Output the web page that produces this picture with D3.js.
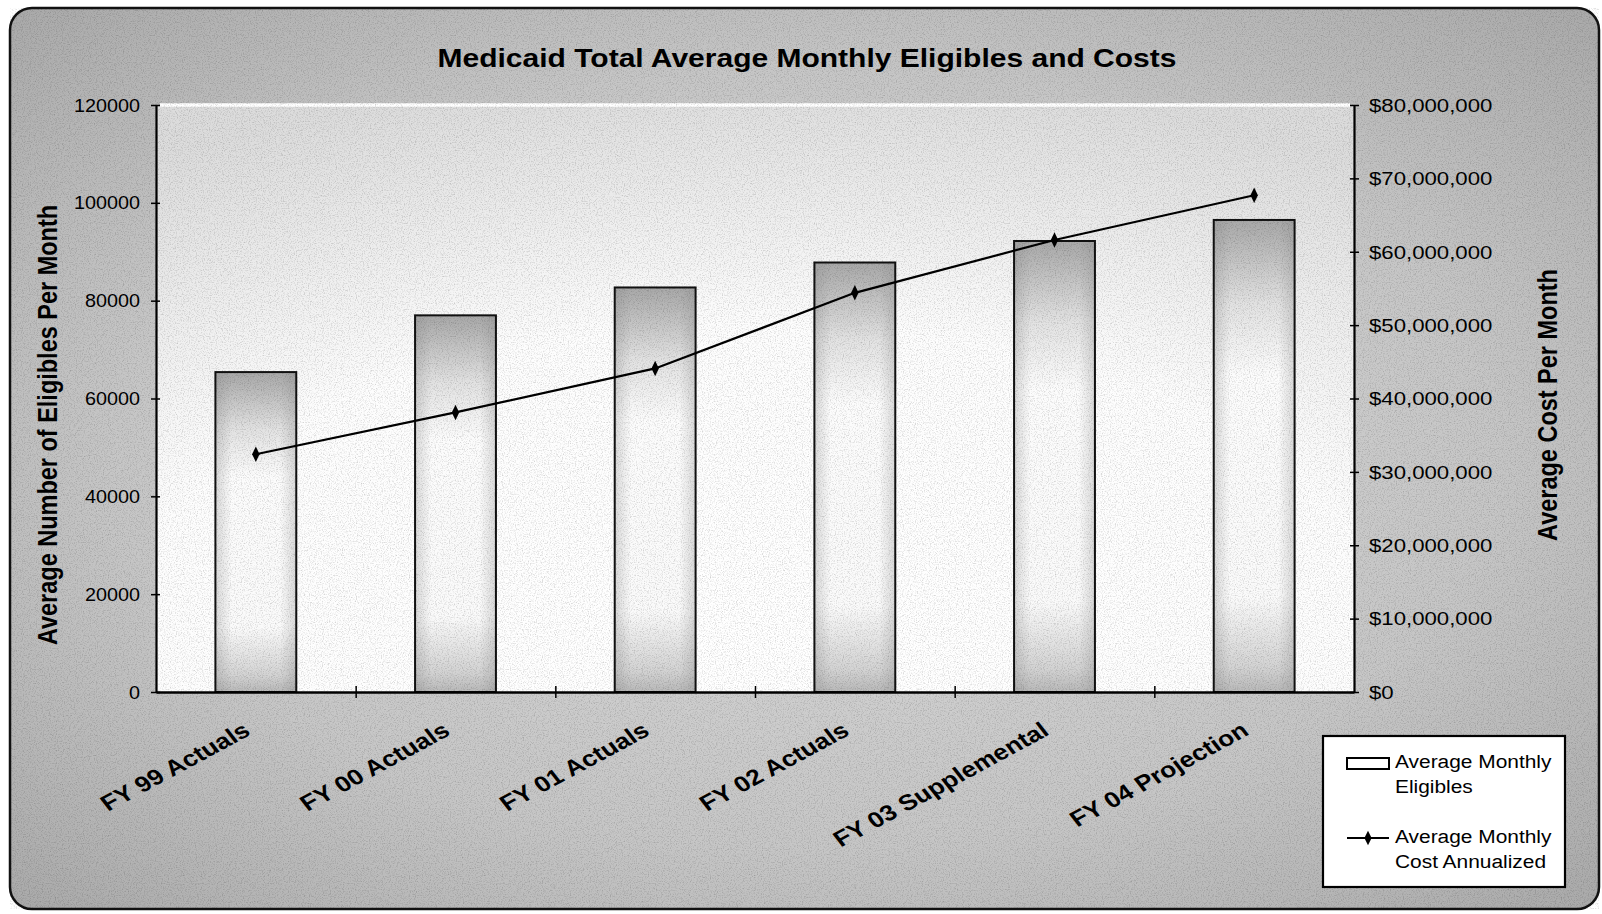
<!DOCTYPE html>
<html>
<head>
<meta charset="utf-8">
<script src="https://cdn.jsdelivr.net/npm/d3@7"></script>
<style>
  body { margin: 0; background: #fff; }
  svg text { font-family: "Liberation Sans", Arial, sans-serif; fill: #000; }
</style>
</head>
<body>
<div id="chart"></div>
<script>
// data
var categories = ["FY 99 Actuals", "FY 00 Actuals", "FY 01 Actuals", "FY 02 Actuals", "FY 03 Supplemental", "FY 04 Projection"];
var eligibles = [65400, 77000, 82700, 87800, 92200, 96500];
var costs = [32400000, 38100000, 44100000, 54400000, 61600000, 67700000];
var leftTicks = [0, 20000, 40000, 60000, 80000, 100000, 120000];
var rightTicks = [0, 10000000, 20000000, 30000000, 40000000, 50000000, 60000000, 70000000, 80000000];
var barLegend = ["Average Monthly", "Eligibles"];
var lineLegend = ["Average Monthly", "Cost Annualized"];
var chartTitle = "Medicaid Total Average Monthly Eligibles and Costs";
var leftTitle = "Average Number of Eligibles Per Month";
var rightTitle = "Average Cost Per Month";

var W = 1602, H = 914;
var margin = { top: 105, right: 248, bottom: 222, left: 156 },
    width = W - margin.left - margin.right,
    height = H - margin.top - margin.bottom;

var root = d3.select("#chart").append("svg")
    .attr("width", W)
    .attr("height", H);

var defs = root.append("defs");

var bg = defs.append("radialGradient").attr("id", "bgGrad")
    .attr("cx", "0.5").attr("cy", "0.5").attr("r", "0.72");
bg.append("stop").attr("offset", "0%").attr("stop-color", "#dadada");
bg.append("stop").attr("offset", "60%").attr("stop-color", "#c6c6c6");
bg.append("stop").attr("offset", "100%").attr("stop-color", "#a8a8a8");

var pg = defs.append("radialGradient").attr("id", "plotGrad")
    .attr("cx", "0.5").attr("cy", "0.9").attr("r", "0.95");
pg.append("stop").attr("offset", "0%").attr("stop-color", "#ffffff");
pg.append("stop").attr("offset", "55%").attr("stop-color", "#fdfdfd");
pg.append("stop").attr("offset", "100%").attr("stop-color", "#dcdcdc");

var bv = defs.append("linearGradient").attr("id", "barV")
    .attr("x1", 0).attr("y1", 0).attr("x2", 0).attr("y2", 1);
[["0%", "#a8a8a8"], ["18%", "#e2e2e2"], ["33%", "#fcfcfc"], ["80%", "#fafafa"], ["95%", "#d2d2d2"], ["100%", "#b8b8b8"]]
    .forEach(function (s) { bv.append("stop").attr("offset", s[0]).attr("stop-color", s[1]); });

var bh = defs.append("linearGradient").attr("id", "barH")
    .attr("x1", 0).attr("y1", 0).attr("x2", 1).attr("y2", 0);
[["0%", 0.3], ["20%", 0], ["80%", 0], ["100%", 0.3]]
    .forEach(function (s) { bh.append("stop").attr("offset", s[0]).attr("stop-color", "#888").attr("stop-opacity", s[1]); });

var noise = defs.append("filter").attr("id", "grain")
    .attr("x", 0).attr("y", 0).attr("width", "100%").attr("height", "100%");
noise.append("feTurbulence").attr("type", "fractalNoise").attr("baseFrequency", 0.85).attr("numOctaves", 2).attr("seed", 4);
noise.append("feColorMatrix").attr("type", "matrix")
    .attr("values", "0 0 0 0 0  0 0 0 0 0  0 0 0 0 0  0 0 0 -1.4 0.75");

// page background
root.append("rect")
    .attr("x", 10).attr("y", 8).attr("width", 1589).attr("height", 901)
    .attr("rx", 22).attr("fill", "url(#bgGrad)");

// the scanned chart is stretched sideways, so text gets a horizontal scale
function stretch(t, x, y, rot, sx) {
    t.attr("transform", "translate(" + x + "," + y + ") scale(" + (sx || 1.2) + ",1)" + (rot ? " rotate(" + rot + ")" : ""));
}

// title
root.append("text")
    .attr("text-anchor", "middle")
    .style("font-size", "25px").style("font-weight", "bold")
    .text(chartTitle)
    .call(stretch, 807, 67);

var svg = root.append("g")
    .attr("transform", "translate(" + margin.left + "," + margin.top + ")");

svg.append("rect")
    .attr("width", width).attr("height", height)
    .attr("fill", "url(#plotGrad)");

var x = d3.scaleBand()
    .domain(categories)
    .range([0, width])
    .paddingInner(0.595)
    .paddingOuter(0.2975);
var xEdge = d3.scaleLinear().domain([0, categories.length]).range([0, width]);

var yL = d3.scaleLinear().domain([0, 120000]).range([height, 0]);
var yR = d3.scaleLinear().domain([0, 80000000]).range([height, 0]);

// grain first, so the plot keeps only a light texture
root.append("rect")
    .attr("x", 10).attr("y", 8).attr("width", 1589).attr("height", 901).attr("rx", 22)
    .attr("filter", "url(#grain)")
    .attr("opacity", 0.3)
    .style("pointer-events", "none");
svg.append("rect")
    .attr("width", width).attr("height", height)
    .attr("fill", "url(#plotGrad)")
    .attr("opacity", 0.75);

// bars
var bars = svg.append("g").selectAll("g")
    .data(eligibles)
    .enter().append("g");
bars.append("rect")
    .attr("x", function (d, i) { return x(categories[i]); })
    .attr("y", function (d) { return yL(d); })
    .attr("width", x.bandwidth())
    .attr("height", function (d) { return height - yL(d); })
    .attr("fill", "url(#barV)");
bars.append("rect")
    .attr("x", function (d, i) { return x(categories[i]); })
    .attr("y", function (d) { return yL(d); })
    .attr("width", x.bandwidth())
    .attr("height", function (d) { return height - yL(d); })
    .attr("fill", "url(#barH)")
    .attr("stroke", "#111")
    .attr("stroke-width", 2);

// white line along the top of the plot
svg.append("line")
    .attr("x1", 4).attr("x2", width - 4)
    .attr("y1", 0).attr("y2", 0)
    .attr("stroke", "#fff").attr("stroke-width", 3.5);

// left axis
var gL = svg.append("g")
    .call(d3.axisLeft(yL).tickValues(leftTicks).tickSize(5).tickSizeOuter(0).tickFormat(d3.format("d")));
gL.select(".domain").attr("stroke", "#000").attr("stroke-width", 2.2);
gL.selectAll(".tick line").attr("x1", 4).attr("stroke", "#000").attr("stroke-width", 1.5);
gL.selectAll(".tick text")
    .style("font-size", "18px").attr("font-family", null)
    .attr("dy", "0.34em")
    .each(function () { d3.select(this).attr("x", null).call(stretch, -16, 0, 0, 1.1); });

// right axis
var gR = svg.append("g")
    .attr("transform", "translate(" + width + ",0)")
    .call(d3.axisRight(yR).tickValues(rightTicks).tickSize(5).tickSizeOuter(0)
        .tickFormat(function (d) { return "$" + d3.format(",")(d); }));
gR.select(".domain").attr("stroke", "#000").attr("stroke-width", 2.2);
gR.selectAll(".tick line").attr("x1", -4).attr("stroke", "#000").attr("stroke-width", 1.5);
gR.selectAll(".tick text")
    .style("font-size", "18.5px").attr("font-family", null)
    .attr("dy", "0.34em")
    .each(function () { d3.select(this).attr("x", null).call(stretch, 15, 0); });

// bottom axis: ticks sit between the categories
var gB = svg.append("g")
    .attr("transform", "translate(0," + height + ")")
    .call(d3.axisBottom(xEdge).tickValues(d3.range(1, categories.length)).tickSize(6).tickSizeOuter(0).tickFormat(""));
gB.select(".domain").attr("stroke", "#000").attr("stroke-width", 2.6);
gB.selectAll(".tick line").attr("y1", -6).attr("stroke", "#000").attr("stroke-width", 1.5);

// category labels
svg.append("g").selectAll("text")
    .data(categories)
    .enter().append("text")
    .attr("text-anchor", "end")
    .style("font-size", "22px").style("font-weight", "bold")
    .text(function (d) { return d; })
    .each(function (d) {
        d3.select(this).call(stretch, x(d) + x.bandwidth() / 2 - 4, height + 42, -33);
    });

// cost line
var line = d3.line()
    .x(function (d, i) { return x(categories[i]) + x.bandwidth() / 2; })
    .y(function (d) { return yR(d); });
svg.append("path")
    .datum(costs)
    .attr("fill", "none")
    .attr("stroke", "#000")
    .attr("stroke-width", 2.2)
    .attr("d", line);
svg.append("g").selectAll("path")
    .data(costs)
    .enter().append("path")
    .attr("d", d3.symbol().type(d3.symbolDiamond).size(48))
    .attr("transform", function (d, i) {
        return "translate(" + (x(categories[i]) + x.bandwidth() / 2) + "," + yR(d) + ") scale(1,1.2)";
    })
    .attr("fill", "#000");

// axis titles
root.append("text")
    .attr("text-anchor", "middle")
    .style("font-size", "23.5px").style("font-weight", "bold")
    .text(leftTitle)
    .call(stretch, 57, 425, -90);
root.append("text")
    .attr("text-anchor", "middle")
    .style("font-size", "23.5px").style("font-weight", "bold")
    .text(rightTitle)
    .call(stretch, 1557, 405, -90);

// legend
var lg = root.append("g").attr("transform", "translate(1323,736)");
lg.append("rect")
    .attr("width", 242).attr("height", 151)
    .attr("fill", "#fff").attr("stroke", "#000").attr("stroke-width", 2.2);
lg.append("rect")
    .attr("x", 24).attr("y", 22).attr("width", 42).attr("height", 11)
    .attr("fill", "#fff").attr("stroke", "#000").attr("stroke-width", 2);
lg.append("line")
    .attr("x1", 24).attr("x2", 66).attr("y1", 102).attr("y2", 102)
    .attr("stroke", "#000").attr("stroke-width", 2);
lg.append("path")
    .attr("d", d3.symbol().type(d3.symbolDiamond).size(45))
    .attr("transform", "translate(45,102) scale(1,1.15)")
    .attr("fill", "#000");
[[barLegend, 32], [lineLegend, 107]].forEach(function (e) {
    e[0].forEach(function (s, j) {
        lg.append("text")
            .style("font-size", "19px")
            .text(s)
            .call(stretch, 72, e[1] + j * 25, 0, 1.1);
    });
});

// outer frame
root.append("rect")
    .attr("x", 10).attr("y", 8).attr("width", 1589).attr("height", 901)
    .attr("rx", 22).attr("fill", "none")
    .attr("stroke", "#111").attr("stroke-width", 2.5);
</script>
</body>
</html>
